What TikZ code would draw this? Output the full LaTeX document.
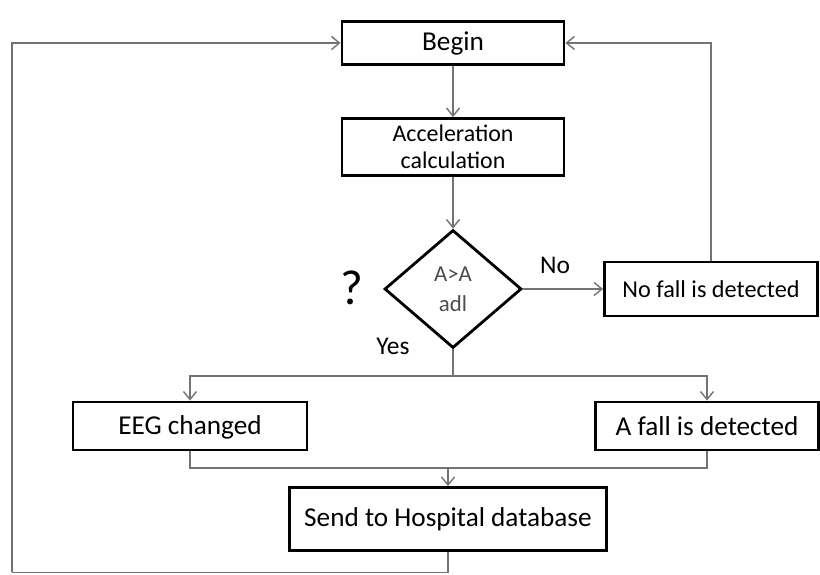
\documentclass[tikz,border=0pt]{standalone}
\usepackage{fontspec}
\setmainfont{Carlito}
\usetikzlibrary{shapes.geometric,arrows.meta}

\begin{document}
\begin{tikzpicture}
    \tikzstyle{every node}=[font=\fontsize{15.5}{18}\selectfont]
    \tikzstyle{box}=[draw,line width=1.6pt,align=center,inner sep=0pt]
    \tikzstyle{line}=[draw=black!55,line width=0.8pt]
    \tikzstyle{arr}=[line,-{Straight Barb[length=1.6mm,width=2.6mm]}]
    \useasboundingbox (0,0) rectangle (16.4,11.5);

    \node[box,minimum width=4.44cm,minimum height=0.86cm] (begin) at (9.06,10.64) {Begin};
    \node[box,minimum width=4.44cm,minimum height=1.14cm,font=\fontsize{13.6}{15.5}\selectfont]
    (accel) at (9.06,8.56) {Acceleration\\calculation};
    \node[box,diamond,minimum width=2.74cm,minimum height=2.36cm,text=black!70,
    font=\fontsize{13}{17}\selectfont] (test) at (9.06,5.72) {A>A\\adl};
    \node[box,minimum width=4.26cm,minimum height=1.08cm,font=\fontsize{13.8}{16}\selectfont]
    (nofall) at (14.22,5.72) {No fall is detected};
    \node[box,minimum width=4.68cm,minimum height=0.96cm,text depth=0.2ex] (eeg) at (3.8,2.98) {EEG changed};
    \node[box,minimum width=4.46cm,minimum height=0.96cm] (fall) at (14.14,2.98) {A fall is detected};
    \node[box,minimum width=6.34cm,minimum height=1.26cm] (send) at (8.96,1.12) {Send to Hospital database};

    \node[font=\fontsize{28}{30}\selectfont] (ask) at (7.04,5.74) {?};
    \node[font=\fontsize{14.5}{16}\selectfont] (no) at (11.1,6.2) {No};
    \node[font=\fontsize{14.5}{16}\selectfont] (yes) at (7.86,4.58) {Yes};

    \coordinate (split) at (9.06,3.98);
    \coordinate (join) at (8.96,2.14);
    \coordinate (corner) at (0.24,0.05);

    \draw[arr] (begin) -- (accel);
    \draw[arr] (accel) -- (test);
    \draw[arr] (test) -- (nofall);
    \draw[arr] (nofall.north) |- (begin.east);
    \draw[line] (test.south) -- (split);
    \draw[arr] (split) -| (eeg.north);
    \draw[arr] (split) -| (fall.north);
    \draw[line] (eeg.south) |- (join) -| (fall.south);
    \draw[arr] (join) -- (send.north);
    \draw[line] (send.south) |- (corner);
    \draw[arr] (corner) |- (begin.west);

\end{tikzpicture}
\end{document}
